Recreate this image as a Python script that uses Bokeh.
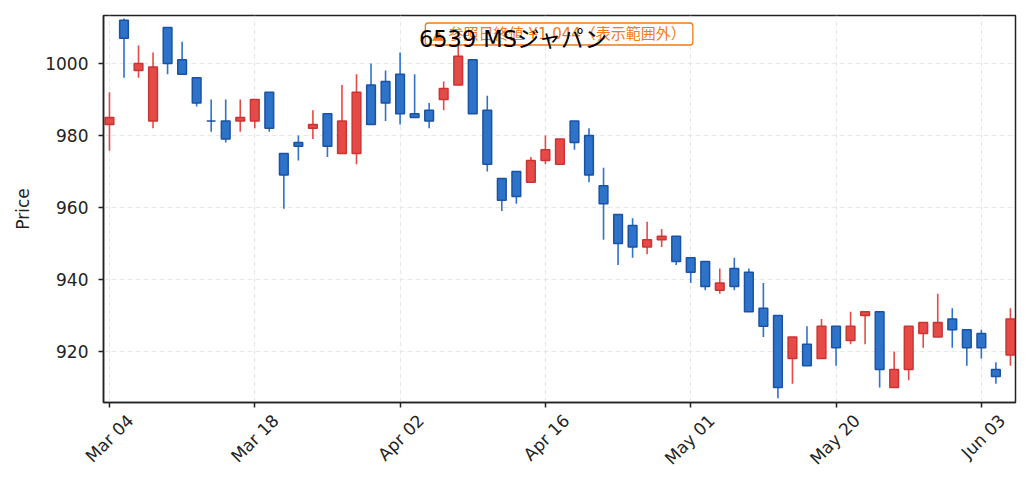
import math
from bokeh.plotting import figure
from bokeh.models import ColumnDataSource, Range1d, FixedTicker, Label, LinearAxis
from bokeh.embed import file_html
from bokeh.resources import INLINE

# ---- data ----
tick_index = [0, 10, 20, 30, 40, 50, 60]
tick_labels = ["Mar 04", "Mar 18", "Apr 02", "Apr 16", "May 01", "May 20", "Jun 03"]
y_ticks = [920, 940, 960, 980, 1000]

opens = [983, 1012, 998, 984, 1010, 1001, 996, 984, 984, 984,
         984, 992, 975, 978, 982, 986, 975, 975, 994, 995,
         997, 986, 987, 990, 994, 1001, 987, 968, 970, 967,
         973, 972, 984, 980, 966, 958, 955, 949, 951, 952,
         946, 945, 937, 943, 942, 932, 930, 918, 922, 918,
         927, 923, 930, 931, 910, 915, 925, 924, 929, 926,
         925, 915, 919]
highs = [992, 1012.5, 1005, 1003, 1010, 1006, 996, 990, 990, 990,
         990, 992, 975, 980, 987, 986, 994, 997, 1000, 998,
         1003, 997, 989, 995, 1005, 1001, 991, 968, 970, 974,
         980, 979, 984, 982, 971, 958, 957, 956, 954, 952,
         946, 945, 943, 946, 943, 939, 930, 924, 927, 929,
         927, 931, 931, 931, 920, 927, 928, 936, 932, 926,
         926, 917, 932]
lows = [975.7, 996, 996, 982, 997, 997, 988, 981, 978, 981,
        982, 981, 959.6, 973, 979, 974, 975, 972, 983, 984,
        983, 985, 982, 987, 994, 986, 970, 959, 961, 967,
        972, 972, 976, 967, 951, 944, 946, 947, 949, 944,
        939, 937, 936, 937, 931, 924, 907, 911, 916, 918,
        916, 922, 922, 910, 910, 912, 921, 924, 921, 916,
        918, 911, 916]
closes = [985, 1007, 1000, 999, 1000, 997, 989, 984, 979, 985,
          990, 982, 969, 977, 983, 977, 984, 992, 983, 989,
          986, 985, 984, 993, 1002, 986, 972, 962, 963, 973,
          976, 979, 978, 969, 961, 950, 949, 951, 952, 945,
          942, 938, 939, 938, 931, 927, 910, 924, 916, 927,
          921, 927, 931, 915, 915, 927, 928, 928, 926, 921,
          921, 913, 929]

title_text = "6539 MSジャパン"
note_text = "▲ 参照日終値 ¥1,044（表示範囲外）"

# ---- styles ----
UP_FILL, UP_LINE, UP_WICK = "#e64a47", "#cc3434", "#e64a47"
DN_FILL, DN_LINE, DN_WICK = "#2d73c9", "#1b52a3", "#2d73c9"
INK = "#222222"
ORANGE = "#f57a14"
FONT = "DejaVu Sans"
MIXED = "DejaVu Sans, Noto Sans CJK JP"

X0, X1 = -0.41, 62.35
Y0, Y1 = 905.8, 1013.3
LABEL_SHIFT = 1.44  # move right-anchored rotated labels so they centre on their ticks

xs = list(range(len(opens)))
up = [c > o for o, c in zip(opens, closes)]
src = ColumnDataSource(dict(
    x=xs,
    high=highs,
    low=lows,
    top=[max(o, c) for o, c in zip(opens, closes)],
    bottom=[min(o, c) for o, c in zip(opens, closes)],
    fill=[UP_FILL if u else DN_FILL for u in up],
    line=[UP_LINE if u else DN_LINE for u in up],
    wick=[UP_WICK if u else DN_WICK for u in up],
))

p = figure(width=1023, height=485, output_backend="svg", toolbar_location=None,
           x_range=Range1d(X0, X1), y_range=Range1d(Y0, Y1),
           min_border_left=103, min_border_right=8, min_border_top=15, min_border_bottom=83)
p.background_fill_color = "white"
p.border_fill_color = "white"
p.outline_line_color = INK
p.outline_line_width = 1.5

p.segment(x0="x", y0="low", x1="x", y1="high", line_color="wick", line_width=1.6, source=src)
p.vbar(x="x", width=0.6, top="top", bottom="bottom", fill_color="fill",
       line_color="line", line_width=1.5, source=src)

# x axis: tick marks only
p.xaxis.ticker = FixedTicker(ticks=tick_index)
p.xaxis.major_label_overrides = {i: "" for i in tick_index}
p.xaxis.major_label_text_font_size = "0px"
p.xaxis.major_label_standoff = 0

# second x axis: rotated date labels centred on the ticks
shifted = [t + LABEL_SHIFT for t in tick_index]
lab_axis = LinearAxis(ticker=FixedTicker(ticks=shifted),
                      major_label_overrides={s: l for s, l in zip(shifted, tick_labels)},
                      major_label_orientation=math.pi / 4,
                      axis_line_color=None, major_tick_line_color=None,
                      minor_tick_line_color=None, major_tick_out=0, major_tick_in=0,
                      major_label_standoff=10, major_label_text_font=FONT,
                      major_label_text_font_size="17px", major_label_text_color=INK)
p.add_layout(lab_axis, "below")

p.yaxis.ticker = FixedTicker(ticks=y_ticks)
p.yaxis.axis_label = "Price"
p.yaxis.axis_label_text_font_style = "normal"
p.yaxis.axis_label_text_font = FONT
p.yaxis.axis_label_text_font_size = "17px"
p.yaxis.axis_label_text_color = INK
p.yaxis.axis_label_standoff = 9
p.yaxis.major_label_standoff = 10
p.yaxis.major_label_text_font = FONT
p.yaxis.major_label_text_font_size = "17px"
p.yaxis.major_label_text_color = INK
for ax in (p.xaxis[0], p.yaxis[0]):
    ax.axis_line_color = INK
    ax.axis_line_width = 1.5
    ax.major_tick_line_color = INK
    ax.major_tick_line_width = 1.5
    ax.major_tick_out = 5
    ax.major_tick_in = 0
    ax.minor_tick_line_color = None

for g in (p.xgrid, p.ygrid):
    g.grid_line_color = "#e8e8e8"
    g.grid_line_dash = "5 3"
    g.grid_line_width = 1.2
p.xgrid.ticker = FixedTicker(ticks=tick_index)

note = Label(x=30.94, y=1008.16, text=note_text, text_align="center", text_baseline="middle",
             text_font=MIXED, text_font_size="15px", text_color=ORANGE,
             background_fill_color="white", border_line_color=ORANGE, border_line_width=1.3,
             padding=dict(left=7, right=7, top=2, bottom=2), border_radius=3)
p.add_layout(note)
title = Label(x=27.77, y=1006.75, text=title_text, text_align="center", text_baseline="middle",
              text_font=MIXED, text_font_size="22.5px", text_color="black")
p.add_layout(title)

open("out.html", "w").write(file_html(p, INLINE))
